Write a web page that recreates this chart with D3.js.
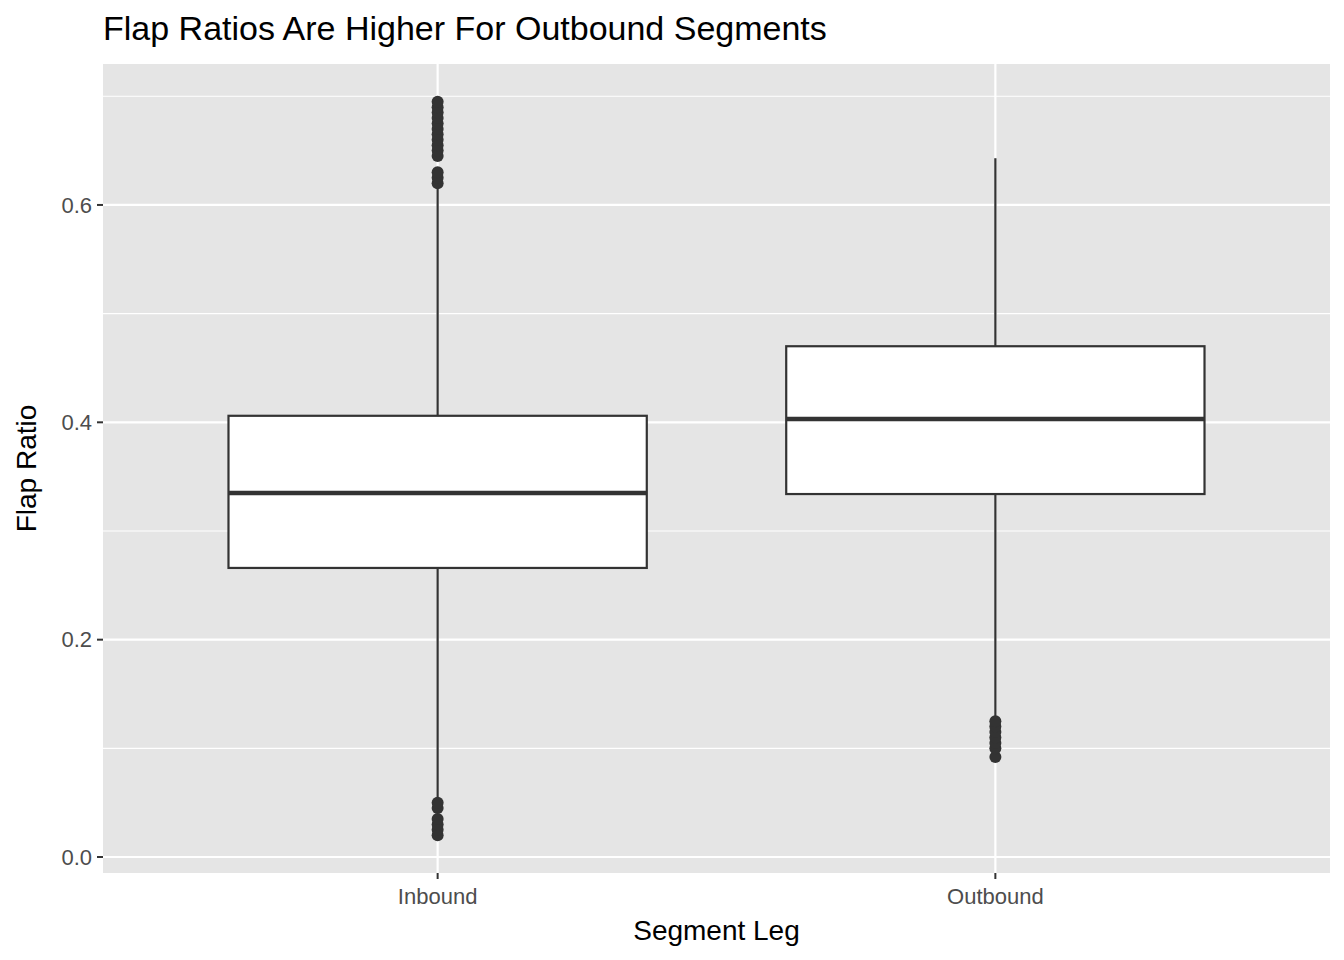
<!DOCTYPE html>
<html><head><meta charset="utf-8">
<script src="https://cdn.jsdelivr.net/npm/d3@7"></script>
<style>body{margin:0;background:#fff}text{font-family:"Liberation Sans",Arial,sans-serif}</style>
</head><body>
<svg width="1344" height="960"></svg>
<script>
var legs = ["Inbound", "Outbound"];
var q1 = [0.266, 0.334];
var medians = [0.335, 0.403];
var q3 = [0.406, 0.470];
var whiskerLow = [0.055, 0.127];
var whiskerHigh = [0.617, 0.643];
var outliers = [
  [0.620, 0.625, 0.630, 0.645, 0.650, 0.655, 0.660, 0.665, 0.670, 0.675, 0.680, 0.685, 0.690, 0.695,
   0.020, 0.025, 0.030, 0.035, 0.045, 0.050],
  [0.092, 0.100, 0.105, 0.110, 0.115, 0.120, 0.125]
];
var yTicks = [0, 0.2, 0.4, 0.6];
var yMinor = [0.1, 0.3, 0.5, 0.7];

var svg = d3.select("svg");
var margin = {top: 64, right: 14, bottom: 87, left: 103};
var W = 1344, H = 960;

// ggplot discrete axis: positions 1..n with 0.6 expansion
var x = d3.scaleLinear().domain([0.4, 2.6]).range([margin.left, W - margin.right]);
var y = d3.scaleLinear().domain([-0.0147, 0.7297]).range([H - margin.bottom, margin.top]);

svg.append("rect").attr("x", margin.left).attr("y", margin.top)
  .attr("width", W - margin.left - margin.right).attr("height", H - margin.top - margin.bottom)
  .attr("fill", "#e5e5e5");

var grid = svg.append("g").attr("stroke", "#fff").attr("fill", "none");
yMinor.forEach(v => grid.append("line").attr("x1", margin.left).attr("x2", W - margin.right)
  .attr("y1", y(v)).attr("y2", y(v)).attr("stroke-width", 1.1));
yTicks.forEach(v => grid.append("line").attr("x1", margin.left).attr("x2", W - margin.right)
  .attr("y1", y(v)).attr("y2", y(v)).attr("stroke-width", 2.2));
legs.forEach((l, i) => grid.append("line").attr("x1", x(i + 1)).attr("x2", x(i + 1))
  .attr("y1", margin.top).attr("y2", H - margin.bottom).attr("stroke-width", 2.2));

var col = "#333";
var bw = 0.375;
legs.forEach(function(l, i){
  var g = svg.append("g");
  var cx = x(i + 1);
  g.append("line").attr("x1", cx).attr("x2", cx).attr("y1", y(whiskerHigh[i])).attr("y2", y(q3[i]))
    .attr("stroke", col).attr("stroke-width", 2.2);
  g.append("line").attr("x1", cx).attr("x2", cx).attr("y1", y(q1[i])).attr("y2", y(whiskerLow[i]))
    .attr("stroke", col).attr("stroke-width", 2.2);
  g.append("rect").attr("x", x(i + 1 - bw)).attr("width", x(i + 1 + bw) - x(i + 1 - bw))
    .attr("y", y(q3[i])).attr("height", y(q1[i]) - y(q3[i]))
    .attr("fill", "#fff").attr("stroke", col).attr("stroke-width", 2.2);
  g.append("line").attr("x1", x(i + 1 - bw)).attr("x2", x(i + 1 + bw))
    .attr("y1", y(medians[i])).attr("y2", y(medians[i])).attr("stroke", col).attr("stroke-width", 4.5);
  g.selectAll("circle").data(outliers[i]).enter().append("circle")
    .attr("cx", cx).attr("cy", d => y(d)).attr("r", 6).attr("fill", col);
});

// axes
var ay = svg.append("g");
yTicks.forEach(function(v){
  ay.append("line").attr("x1", margin.left - 6).attr("x2", margin.left).attr("y1", y(v)).attr("y2", y(v))
    .attr("stroke", col).attr("stroke-width", 2);
  ay.append("text").attr("x", margin.left - 11).attr("y", y(v)).attr("dy", "0.35em")
    .attr("text-anchor", "end").attr("font-size", 22).attr("fill", "#4d4d4d").text(v.toFixed(1));
});
legs.forEach(function(l, i){
  ay.append("line").attr("x1", x(i + 1)).attr("x2", x(i + 1)).attr("y1", H - margin.bottom)
    .attr("y2", H - margin.bottom + 6).attr("stroke", col).attr("stroke-width", 2);
  ay.append("text").attr("x", x(i + 1)).attr("y", H - margin.bottom + 31)
    .attr("text-anchor", "middle").attr("font-size", 22).attr("fill", "#4d4d4d").text(l);
});

svg.append("text").attr("x", (margin.left + W - margin.right) / 2).attr("y", 940)
  .attr("text-anchor", "middle").attr("font-size", 28).text("Segment Leg");
svg.append("text").attr("transform", "translate(36," + ((margin.top + H - margin.bottom) / 2) + ") rotate(-90)")
  .attr("text-anchor", "middle").attr("font-size", 28).text("Flap Ratio");
svg.append("text").attr("x", margin.left).attr("y", 40).attr("font-size", 34)
  .text("Flap Ratios Are Higher For Outbound Segments");
</script>
</body></html>
